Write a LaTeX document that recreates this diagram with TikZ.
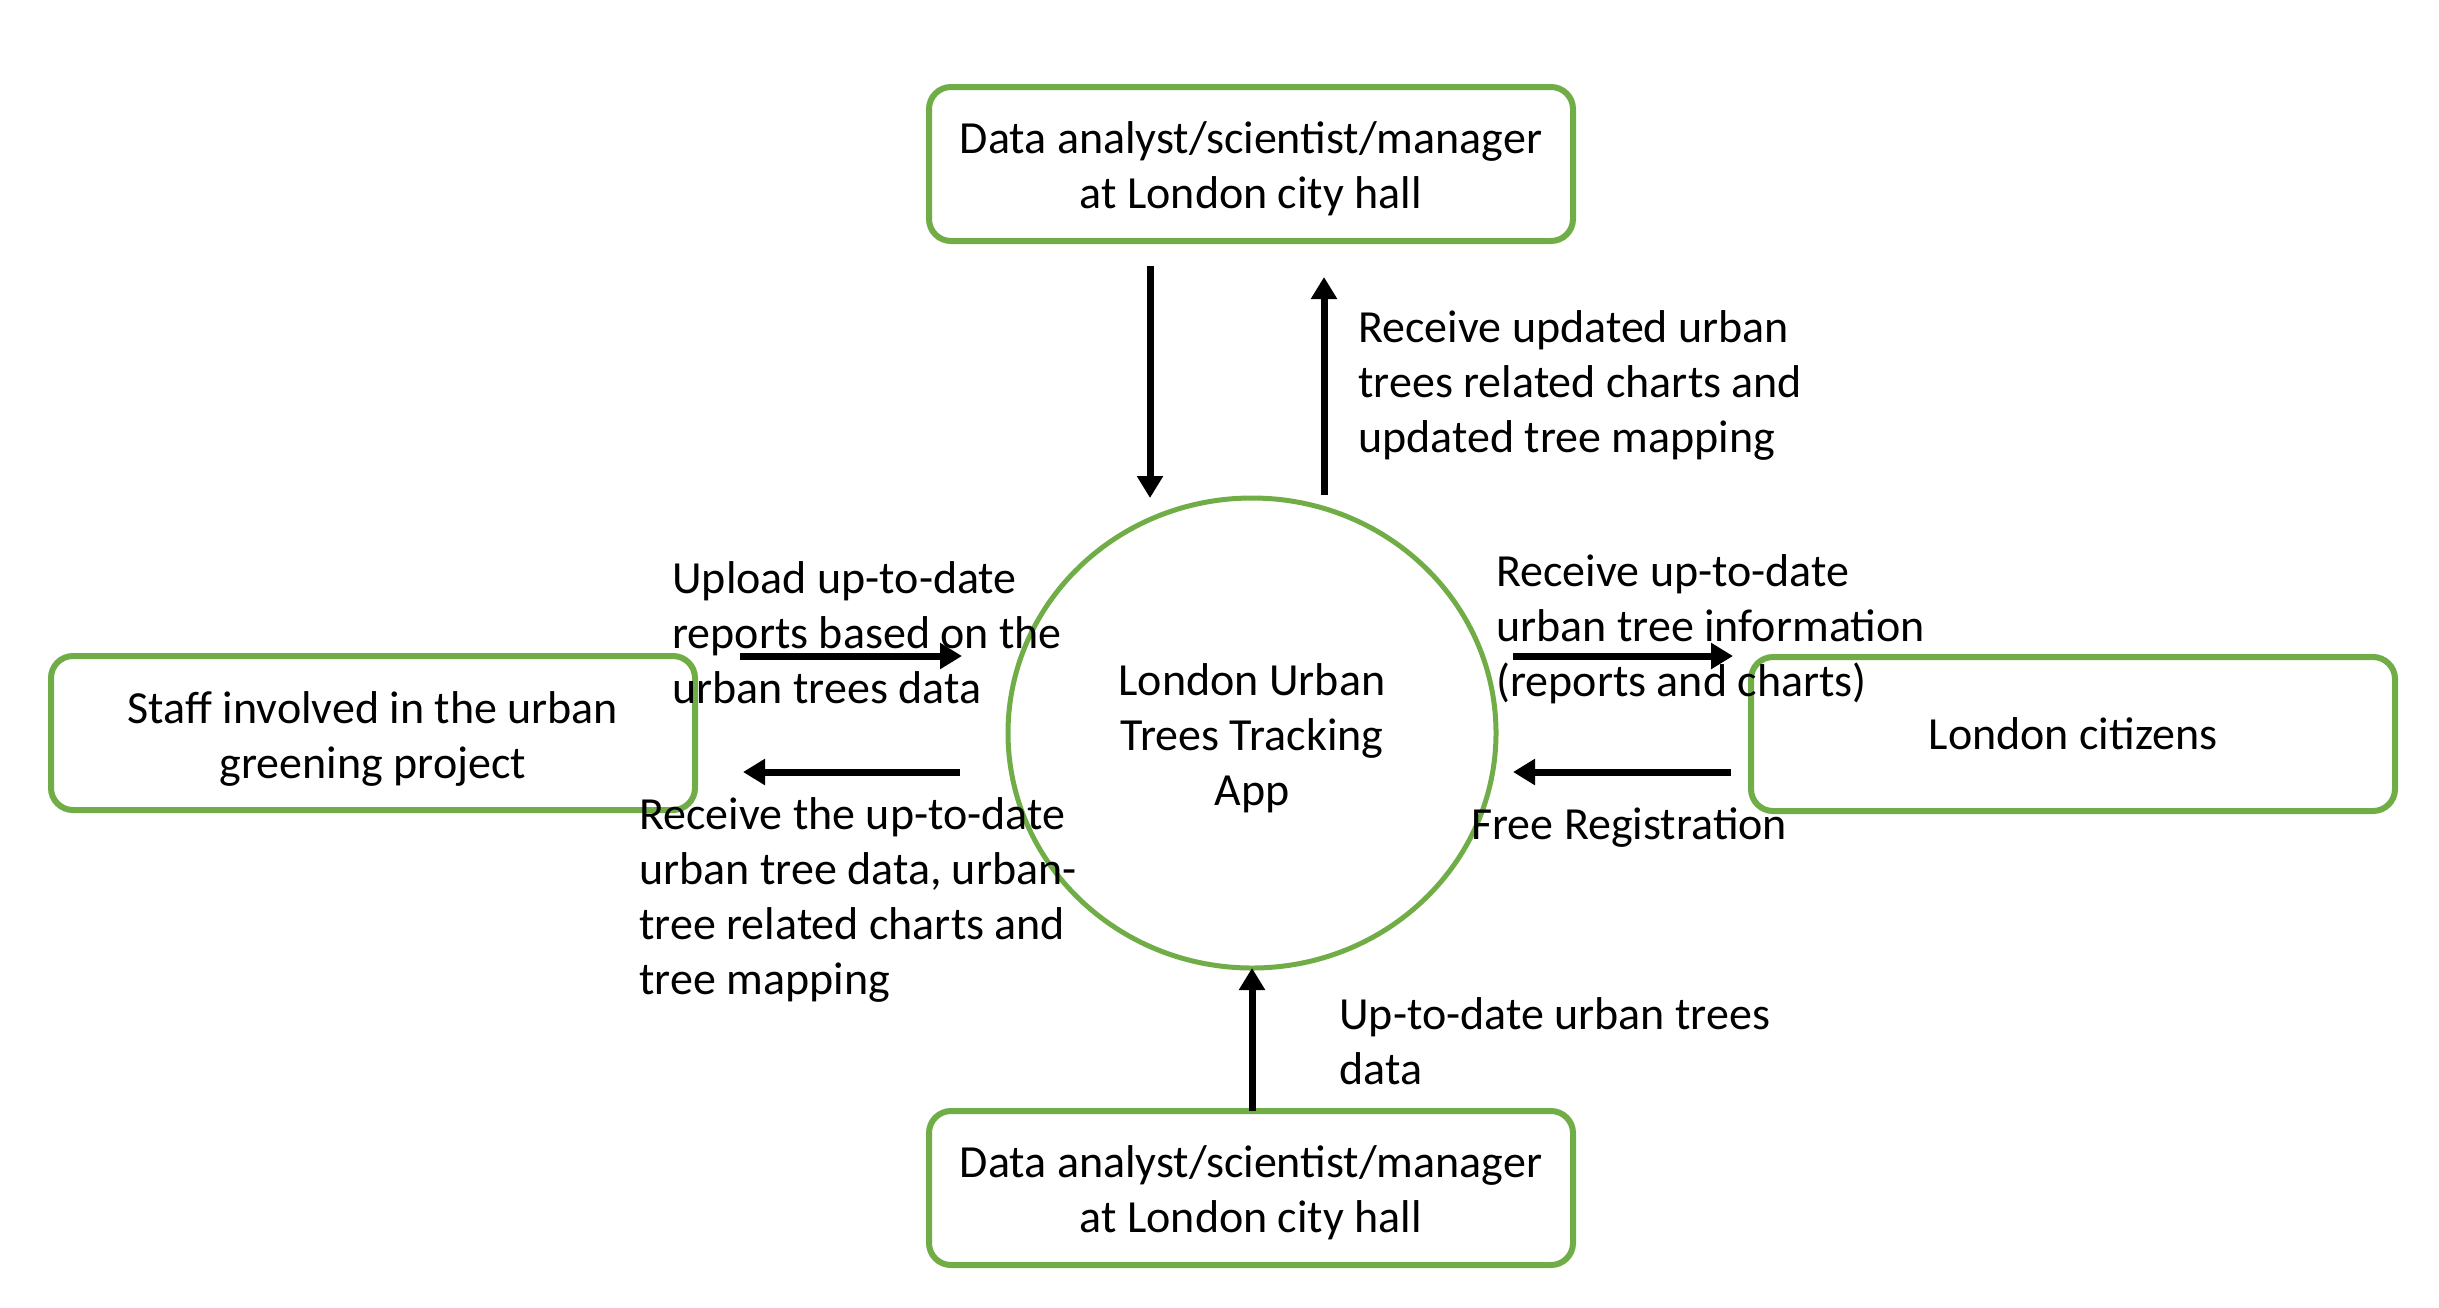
\documentclass[tikz,border=0pt]{standalone}
\usepackage{fontspec}
\setmainfont{Carlito}
\usetikzlibrary{arrows.meta,shapes.geometric}
\definecolor{boxgreen}{HTML}{70AD47}
\newcommand{\upstrut}[1]{\rule{0pt}{#1}}
\begin{document}
\begin{tikzpicture}[x=0.5pt,y=-0.5pt,
  every node/.style={font=\fontsize{23}{27.5}\selectfont},
  entity/.style={draw=boxgreen,line width=3pt,rounded corners=11pt,minimum width=322pt,minimum height=77pt,align=center,inner sep=0pt,fill=white},
  proc/.style={draw=boxgreen,line width=2.5pt,ellipse,minimum width=244pt,minimum height=235pt,align=center,inner sep=0pt},
  flow/.style={line width=3.5pt,-{Triangle[length=11pt,width=12.5pt]}},
  lbl/.style={anchor=west,align=left,inner sep=0pt}]
\useasboundingbox (0,0) rectangle (2439,1307);
\node[entity] (top) at (1251,164) {\upstrut{21pt}Data analyst/scientist/manager\\at London city hall};
\node[entity] (bot) at (1251,1188) {\upstrut{21pt}Data analyst/scientist/manager\\at London city hall};
\node[entity] (left) at (373,733) {\upstrut{22pt}Staff involved in the urban\\greening project};
\node[entity] (right) at (2073,734) {London citizens};
\node[proc] (app) at (1252,733) {\upstrut{21pt}London Urban\\Trees Tracking\\App};
% arrow end points
\coordinate (t1s) at (1150,266); \coordinate (t1e) at (1150,498);
\coordinate (t2s) at (1324,495); \coordinate (t2e) at (1324,277);
\coordinate (l1s) at (740,656);  \coordinate (l1e) at (962,656);
\coordinate (l2s) at (960,772);  \coordinate (l2e) at (743,772);
\coordinate (r1s) at (1513,656); \coordinate (r1e) at (1733,656);
\coordinate (r2s) at (1731,772); \coordinate (r2e) at (1513,772);
\coordinate (b1s) at (1252,1111); \coordinate (b1e) at (1252,968);
\draw[flow] (t1s) -- (t1e);
\draw[flow] (t2s) -- (t2e);
\draw[flow] (l1s) -- (l1e);
\draw[flow] (l2s) -- (l2e);
\draw[flow] (r1s) -- (r1e);
\draw[flow] (r2s) -- (r2e);
\draw[flow] (b1s) -- (b1e);
% labels
\node[lbl] (lab1) at (1358,385) {Receive updated urban\\trees related charts and\\updated tree mapping};
\node[lbl] (lab2) at (672,633) {Upload up-to-date\\reports based on the\\urban trees data};
\node[lbl] (lab3) at (639,900) {Receive the up-to-date\\urban tree data, urban-\\tree related charts and\\tree mapping};
\node[lbl] (lab4) at (1496,629) {Receive up-to-date\\urban tree information\\(reports and charts)};
\node[lbl] (lab5) at (1471,828) {Free Registration};
\node[lbl] (lab6) at (1339,1041) {Up-to-date urban trees\\data};
\end{tikzpicture}
\end{document}
